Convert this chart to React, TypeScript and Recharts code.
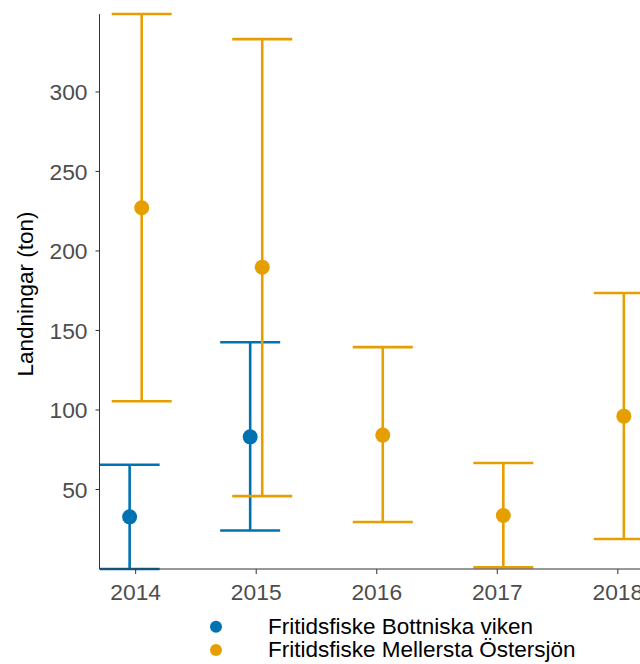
import React from 'react';
import { ComposedChart, Scatter, XAxis, YAxis, ErrorBar } from 'recharts';

const years = [2014, 2015, 2016, 2017, 2018];
const yTicks = [50, 100, 150, 200, 250, 300];
const seriesNames = ['Fritidsfiske Bottniska viken', 'Fritidsfiske Mellersta Östersjön'];
const seriesColors = ['#0072B2', '#E69F00'];

const bottnYears = [2014, 2015];
const bottnMean = [32.8, 83.1];
const bottnLow = [0, 24.2];
const bottnHigh = [65.6, 142.6];

const mellYears = [2014, 2015, 2016, 2017, 2018];
const mellMean = [227.2, 189.8, 84.2, 33.6, 96.1];
const mellLow = [105.5, 45.8, 29.6, 1.1, 18.9];
const mellHigh = [349, 333.2, 139.5, 66.7, 173.6];

const DODGE = 0.05;
const FONT = '"Liberation Sans", Arial, sans-serif';

const build = (ys: number[], mean: number[], low: number[], high: number[], off: number) =>
  ys.map((yr, i) => ({ x: yr + off, y: mean[i], err: [mean[i] - low[i], high[i] - mean[i]] }));

const bottnData = build(bottnYears, bottnMean, bottnLow, bottnHigh, -DODGE);
const mellData = build(mellYears, mellMean, mellLow, mellHigh, DODGE);

const dot = (color: string) => (props: any) => (
  <circle cx={props.cx} cy={props.cy} r={7.5} fill={color} />
);

export default function App() {
  return (
    <div style={{ position: 'absolute', left: 0, top: 0, width: 640, height: 664, overflow: 'hidden', background: '#fff' }}>
      <ComposedChart width={654} height={664} margin={{ top: 14, right: 0, bottom: 0, left: 0 }}>
        <XAxis
          type="number"
          dataKey="x"
          domain={[2013.7, 2018.3]}
          ticks={years}
          height={95}
          tickSize={5}
          tickMargin={10}
          stroke="#333333"
          tick={{ fill: '#4D4D4D', fontSize: 22.8, fontFamily: FONT }}
          allowDataOverflow
        />
        <YAxis
          type="number"
          dataKey="y"
          domain={[0, 349]}
          ticks={yTicks}
          width={99.5}
          tickSize={4}
          tickMargin={8}
          stroke="#333333"
          tick={{ fill: '#4D4D4D', fontSize: 22.8, fontFamily: FONT }}
          allowDataOverflow
          label={{
            content: () => (
              <text
                x={32.5}
                y={294}
                transform="rotate(-90, 32.5, 294)"
                textAnchor="middle"
                fill="#000"
                fontSize={22.5}
                fontFamily={FONT}
              >
                Landningar (ton)
              </text>
            ),
          }}
        />
        <Scatter
          name={seriesNames[0]}
          data={bottnData}
          fill={seriesColors[0]}
          shape={dot(seriesColors[0])}
          isAnimationActive={false}
        >
          <ErrorBar dataKey="err" direction="y" width={30} strokeWidth={2.6} stroke={seriesColors[0]} isAnimationActive={false} />
        </Scatter>
        <Scatter
          name={seriesNames[1]}
          data={mellData}
          fill={seriesColors[1]}
          shape={dot(seriesColors[1])}
          isAnimationActive={false}
        >
          <ErrorBar dataKey="err" direction="y" width={30} strokeWidth={2.6} stroke={seriesColors[1]} isAnimationActive={false} />
        </Scatter>
      </ComposedChart>
      <svg width={640} height={664} style={{ position: 'absolute', left: 0, top: 0, pointerEvents: 'none' }}>
        {seriesNames.map((name, i) => (
          <g key={name}>
            <circle cx={216} cy={626.7 + i * 23.3} r={6} fill={seriesColors[i]} />
            <text x={268} y={633.5 + i * 23.3} fontSize={22.5} fontFamily={FONT} fill="#000">
              {name}
            </text>
          </g>
        ))}
      </svg>
    </div>
  );
}
